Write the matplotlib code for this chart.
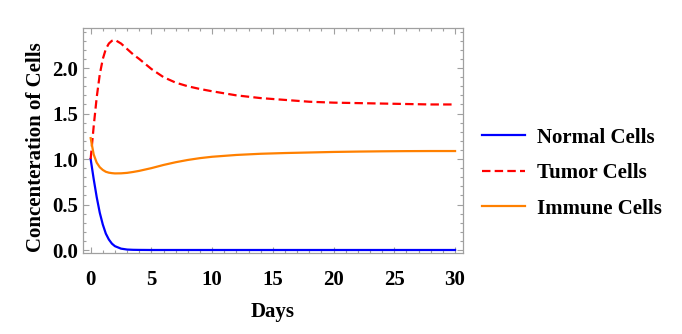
import matplotlib
matplotlib.use("Agg")
import matplotlib.pyplot as plt
from matplotlib.ticker import MultipleLocator

# Model output sampled in days
days = [0, 0.25, 0.5, 0.75, 1.0, 1.25, 1.5, 1.75, 2.0, 2.5, 3.0, 3.5, 4.0,
        5.0, 6.0, 7.0, 8.0, 9.0, 10.0, 12.0, 14.0, 16.0, 18.0, 20.0, 22.0,
        24.0, 26.0, 28.0, 30.0]

normal = [1.0, 0.78, 0.58, 0.41, 0.28, 0.18, 0.115, 0.07, 0.042, 0.015,
          0.005, 0.002, 0.001, 0.0, 0.0, 0.0, 0.0, 0.0, 0.0, 0.0, 0.0, 0.0,
          0.0, 0.0, 0.0, 0.0, 0.0, 0.0, 0.0]

tumor = [1.0, 1.36, 1.68, 1.93, 2.10, 2.21, 2.27, 2.30, 2.31, 2.27, 2.21,
         2.15, 2.10, 1.99, 1.90, 1.84, 1.80, 1.77, 1.745, 1.70, 1.67, 1.65,
         1.63, 1.62, 1.615, 1.61, 1.605, 1.60, 1.60]

immune = [1.23, 1.05, 0.96, 0.91, 0.88, 0.86, 0.85, 0.845, 0.842, 0.843,
          0.848, 0.858, 0.87, 0.90, 0.935, 0.965, 0.99, 1.01, 1.025, 1.045,
          1.058, 1.066, 1.072, 1.078, 1.082, 1.085, 1.087, 1.088, 1.088]

x_ticks = [0, 5, 10, 15, 20, 25, 30]
y_ticks = [0.0, 0.5, 1.0, 1.5, 2.0]

serif = ["Liberation Serif", "DejaVu Serif"]
frame_gray = "#a0a0a0"
fs = 15

fig = plt.figure(figsize=(6.82, 3.34), dpi=100)
ax = fig.add_axes([0.1217, 0.2425, 0.5573, 0.6735])

ax.plot(days, normal, color=(0, 0, 1), lw=1.6, label="Normal Cells")
ax.plot(days, tumor, color=(1, 0, 0), lw=1.6, dashes=(3.8, 1.9),
        label="Tumor Cells")
ax.plot(days, immune, color=(1, 0.5, 0), lw=1.6, label="Immune Cells")

ax.set_xlim(-0.63, 30.66)
ax.set_ylim(-0.033, 2.44)

ax.set_xticks(x_ticks)
ax.set_xticklabels([str(v) for v in x_ticks])
ax.set_yticks(y_ticks)
ax.set_yticklabels([f"{v:.1f}" for v in y_ticks])
ax.xaxis.set_minor_locator(MultipleLocator(1))
ax.yaxis.set_minor_locator(MultipleLocator(0.1))

ax.tick_params(which="both", direction="in", top=True, right=True,
               color=frame_gray, width=0.8)
ax.tick_params(which="major", length=4.5)
ax.tick_params(which="minor", length=2.5)
ax.tick_params(axis="x", which="major", pad=12)
ax.tick_params(axis="y", which="major", pad=3.5)
for lab in ax.get_xticklabels() + ax.get_yticklabels():
    lab.set_fontfamily(serif)
    lab.set_fontweight("bold")
    lab.set_fontsize(fs)

for sp in ax.spines.values():
    sp.set_color(frame_gray)
    sp.set_linewidth(0.9)

ax.set_xlabel("Days", fontfamily=serif, fontweight="bold", fontsize=fs,
              labelpad=9)
ax.set_ylabel("Concenteration of Cells", fontfamily=serif, fontweight="bold",
              fontsize=fs)
ax.yaxis.set_label_coords(-0.097, 0.47)

leg = ax.legend(loc="center left", bbox_to_anchor=(1.028, 0.355),
                frameon=False, borderaxespad=0,
                prop={"family": serif, "weight": "bold", "size": fs},
                handlelength=2.05, handletextpad=0.6, labelspacing=0.74)

fig.savefig("out.png", dpi=100)
